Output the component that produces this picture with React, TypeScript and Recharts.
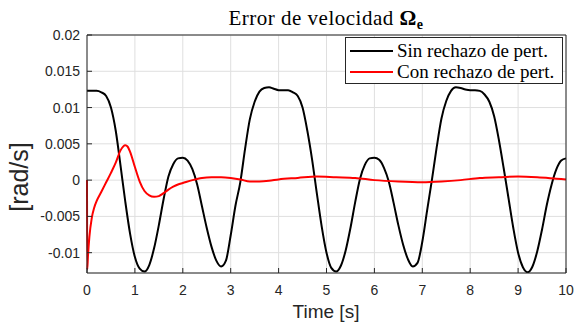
import { CartesianGrid, Legend, Line, LineChart, XAxis, YAxis } from "recharts";

const blackTime = [
  0, 0.1, 0.2, 0.3, 0.4, 0.5, 0.6, 0.7, 0.8, 0.9, 1, 1.1, 1.2, 1.3, 1.4, 1.5, 1.6, 1.7, 1.8, 1.9, 2, 2.1,
  2.2, 2.3, 2.4, 2.5, 2.6, 2.7, 2.8, 2.9, 3, 3.1, 3.2, 3.3, 3.4, 3.5, 3.6, 3.7, 3.8, 3.9, 4, 4.1, 4.2, 4.3,
  4.4, 4.5, 4.6, 4.7, 4.8, 4.9, 5, 5.1, 5.2, 5.3, 5.4, 5.5, 5.6, 5.7, 5.8, 5.9, 6, 6.1, 6.2, 6.3, 6.4, 6.5,
  6.6, 6.7, 6.8, 6.9, 7, 7.1, 7.2, 7.3, 7.4, 7.5, 7.6, 7.7, 7.8, 7.9, 8, 8.1, 8.2, 8.3, 8.4, 8.5, 8.6, 8.7,
  8.8, 8.9, 9, 9.1, 9.2, 9.3, 9.4, 9.5, 9.6, 9.7, 9.8, 9.9, 10,
];

// sin rechazo de perturbaciones
const blackValues = [
  0.0123, 0.0123, 0.0123, 0.0121, 0.0116, 0.01, 0.0068, 0.002, -0.003, -0.0074, -0.0106, -0.0122, -0.0126,
  -0.0117, -0.0094, -0.0062, -0.0026, 0.0005, 0.0022, 0.003, 0.0031, 0.0027, 0.0015, -0.0006, -0.0036,
  -0.0066, -0.0092, -0.0111, -0.0119, -0.0111, -0.0076, -0.0035, -0.0003, 0.0043, 0.0084, 0.0108, 0.0122,
  0.0127, 0.0128, 0.0126, 0.0124, 0.0124, 0.0124, 0.0121, 0.0116, 0.01, 0.0068, 0.0028, -0.0019, -0.0064,
  -0.01, -0.0121, -0.0126, -0.0118, -0.0097, -0.0066, -0.003, 0.0002, 0.0021, 0.003, 0.0031, 0.0028, 0.0017,
  -0.0002, -0.0031, -0.0062, -0.0089, -0.0109, -0.0119, -0.0114, -0.0085, -0.0042, 0, 0.0045, 0.0085, 0.0109,
  0.0123, 0.0128, 0.0127, 0.0125, 0.0124, 0.0124, 0.0123, 0.0118, 0.0108, 0.0088, 0.0055, 0.0016, -0.0025,
  -0.0066, -0.01, -0.012, -0.0127, -0.0119, -0.0098, -0.0068, -0.0034, -0.0006, 0.0015, 0.0027, 0.003,
];

const redTime = [
  0, 0.005, 0.02, 0.05, 0.1, 0.15, 0.2, 0.3, 0.4, 0.5, 0.6, 0.7, 0.8, 0.85, 0.9, 1, 1.1, 1.2, 1.3, 1.4, 1.5,
  1.6, 1.7, 1.8, 1.9, 2, 2.2, 2.4, 2.6, 2.8, 3, 3.2, 3.4, 3.6, 3.8, 4, 4.4, 4.8, 5.2, 5.6, 6, 6.5, 7, 7.4,
  7.8, 8.2, 8.6, 9, 9.4, 9.8, 10,
];

// con rechazo de perturbaciones
const redValues = [
  0, -0.0123, -0.0105, -0.0078, -0.0052, -0.0038, -0.0029, -0.0016, -0.0003, 0.001, 0.0024, 0.0041, 0.0048,
  0.0046, 0.0039, 0.0018, -0.0002, -0.0015, -0.0021, -0.0023, -0.0022, -0.0018, -0.0013, -0.0009, -0.0006,
  -0.0004, 0, 0.0003, 0.0004, 0.0004, 0.0003, 0.0001, -0.0002, -0.0002, -0.0001, 0.0001, 0.0003, 0.0005,
  0.0004, 0.0003, 0, -0.0002, -0.0003, -0.0002, 0, 0.0003, 0.0004, 0.0005, 0.0004, 0.0002, 0.0001,
];

const seriesNames = ["Sin rechazo de pert.", "Con rechazo de pert."];
const xTicks = [0, 1, 2, 3, 4, 5, 6, 7, 8, 9, 10];
const yTicks = [-0.01, -0.005, 0, 0.005, 0.01, 0.015, 0.02];

const axisColor = "#262626";
const sansFont = "'Liberation Sans', Arial, sans-serif";
const serifFont = "'Liberation Serif', 'Times New Roman', serif";

const blackData = blackTime.map((t, i) => ({ t, v: blackValues[i] }));
const redData = redTime.map((t, i) => ({ t, v: redValues[i] }));

function LegendBox({ payload }: { payload?: any[] }) {
  const items = [...(payload || [])].sort(
    (a, b) => seriesNames.indexOf(a.value) - seriesNames.indexOf(b.value)
  );
  return (
    <div
      style={{
        border: `1px solid ${axisColor}`,
        background: "#fff",
        width: 218,
        height: 47,
        boxSizing: "border-box",
        paddingTop: 2,
      }}
    >
      {items.map((p) => (
        <div key={p.value} style={{ display: "flex", alignItems: "center", height: 21 }}>
          <div style={{ marginLeft: 4, width: 43, height: 2, background: p.color }} />
          <span style={{ marginLeft: 4, fontFamily: serifFont, fontSize: 19, lineHeight: "21px", color: "#000" }}>
            {p.value}
          </span>
        </div>
      ))}
    </div>
  );
}

export default function App() {
  return (
    <div style={{ position: "absolute", left: 0, top: 0, width: 575, height: 324, background: "#fff" }}>
      <LineChart width={575} height={324} margin={{ top: 34, right: 8, bottom: 21, left: 27 }}>
        <CartesianGrid stroke="#dfdfdf" strokeWidth={1} />
        <XAxis
          type="number"
          dataKey="t"
          domain={[0, 10]}
          ticks={xTicks}
          interval={0}
          height={30}
          tickSize={-5}
          tickMargin={17}
          stroke={axisColor}
          tick={{ fill: axisColor, fontSize: 14, fontFamily: sansFont }}
        />
        <XAxis
          xAxisId="top"
          orientation="top"
          type="number"
          dataKey="t"
          domain={[0, 10]}
          ticks={xTicks}
          interval={0}
          height={1}
          tickSize={-5}
          tick={false}
          stroke={axisColor}
        />
        <YAxis
          type="number"
          domain={[-0.0128, 0.02]}
          allowDataOverflow
          ticks={yTicks}
          interval={0}
          width={60}
          tickSize={-5}
          tickMargin={12}
          stroke={axisColor}
          tick={{ fill: axisColor, fontSize: 14, fontFamily: sansFont }}
        />
        <YAxis
          yAxisId="right"
          orientation="right"
          type="number"
          domain={[-0.0128, 0.02]}
          allowDataOverflow
          ticks={yTicks}
          interval={0}
          width={1}
          tickSize={-5}
          tick={false}
          stroke={axisColor}
        />
        <Legend
          layout="vertical"
          align="center"
          verticalAlign="middle"
          wrapperStyle={{ left: 345, top: 37, width: 218, height: 47 }}
          content={<LegendBox />}
        />
        <Line
          data={blackData}
          dataKey="v"
          name={seriesNames[0]}
          type="monotone"
          stroke="#000000"
          strokeWidth={2}
          dot={false}
          isAnimationActive={false}
        />
        <Line
          data={redData}
          dataKey="v"
          name={seriesNames[1]}
          type="monotone"
          stroke="#ff0000"
          strokeWidth={2}
          dot={false}
          isAnimationActive={false}
        />
      </LineChart>
      <svg width={575} height={324} style={{ position: "absolute", left: 0, top: 0, pointerEvents: "none" }}>
        <text x={326} y={25} textAnchor="middle" fontFamily={serifFont} fontSize={21} letterSpacing={0.5} fill="#000">
          <tspan>Error de velocidad </tspan>
          <tspan fontWeight="bold">Ω</tspan>
          <tspan fontWeight="bold" fontSize={14} dy={4}>
            e
          </tspan>
        </text>
        <text x={326} y={318} textAnchor="middle" fontFamily={sansFont} fontSize={19} fill={axisColor}>
          Time [s]
        </text>
        <text
          x={0}
          y={0}
          transform="translate(28, 177) rotate(-90)"
          textAnchor="middle"
          fontFamily={sansFont}
          fontSize={25}
          fill={axisColor}
        >
          [rad/s]
        </text>
      </svg>
    </div>
  );
}
